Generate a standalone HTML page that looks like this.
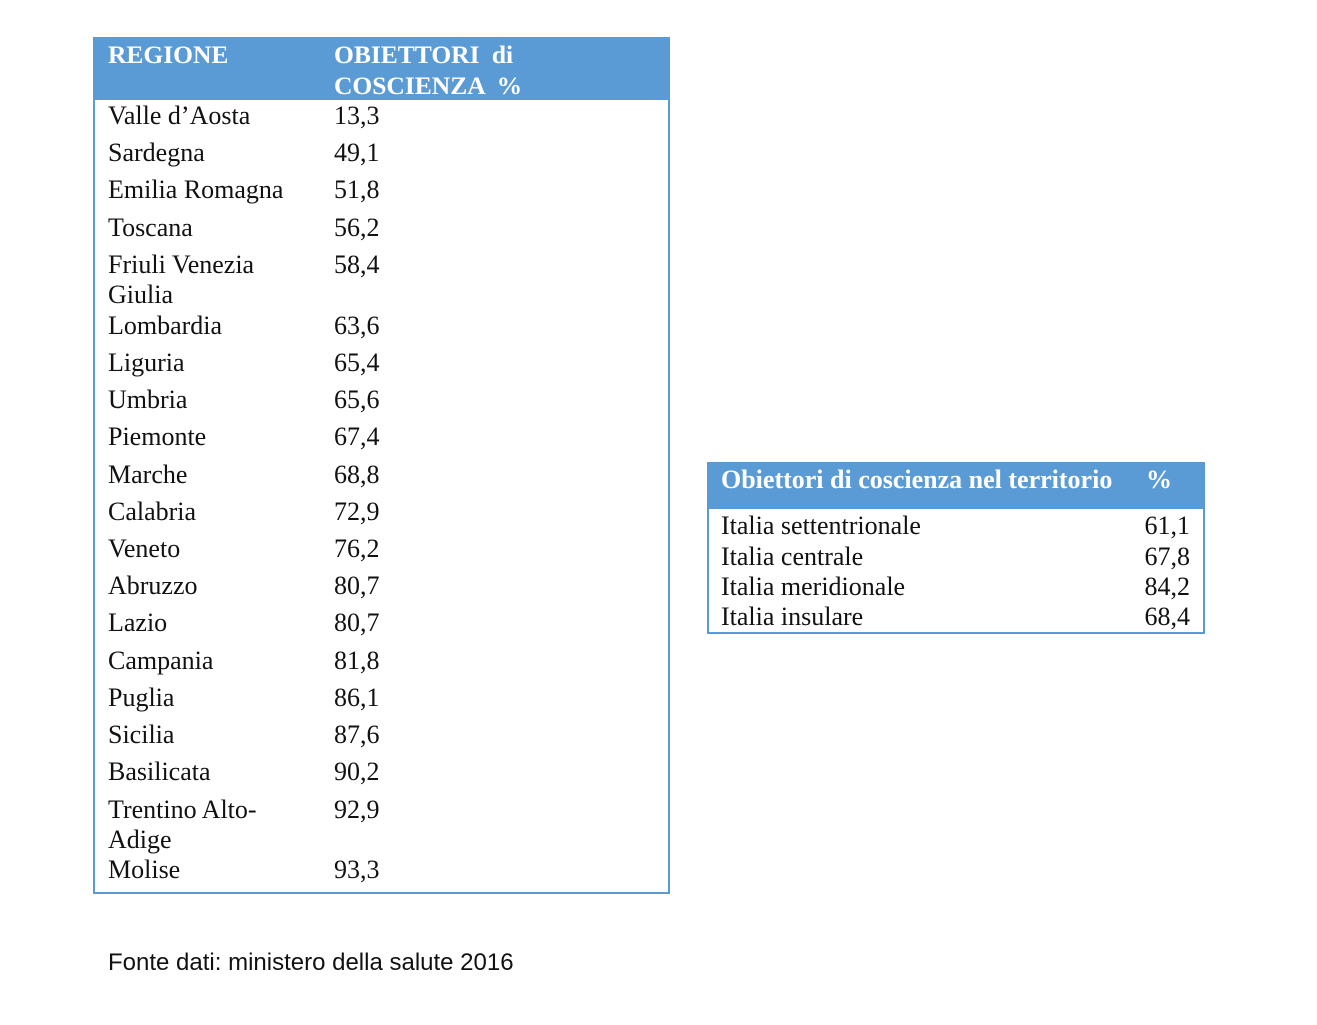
<!DOCTYPE html>
<html><head><meta charset="utf-8"><style>
body{margin:0;width:1317px;height:1025px;background:#fff;position:relative;overflow:hidden;font-family:"Liberation Serif",serif;color:#111}
.t{position:absolute;white-space:nowrap;line-height:30px;height:30px}
.s{font-size:26px}
.h{font-weight:bold;color:#fff;font-size:25.5px}
.box{position:absolute;border:2px solid #5b9bd5;box-sizing:border-box}
.hd{position:absolute;background:#5b9bd5}
.r{text-align:right}
</style></head><body>
<div class="box" style="left:93px;top:37px;width:577px;height:857px"></div>
<div class="hd" style="left:93px;top:37px;width:577px;height:63px"></div>
<div class="t h" style="left:108px;top:40px">REGIONE</div>
<div class="t h" style="left:334px;top:40px;word-spacing:6px">OBIETTORI di</div>
<div class="t h" style="left:334px;top:71px;word-spacing:6px">COSCIENZA %</div>

<div class="t s" style="left:108px;top:101px">Valle d’Aosta</div><div class="t s" style="left:334px;top:101px">13,3</div>
<div class="t s" style="left:108px;top:138px">Sardegna</div><div class="t s" style="left:334px;top:138px">49,1</div>
<div class="t s" style="left:108px;top:175px">Emilia Romagna</div><div class="t s" style="left:334px;top:175px">51,8</div>
<div class="t s" style="left:108px;top:213px">Toscana</div><div class="t s" style="left:334px;top:213px">56,2</div>
<div class="t s" style="left:108px;top:250px">Friuli Venezia</div><div class="t s" style="left:334px;top:250px">58,4</div>
<div class="t s" style="left:108px;top:280px">Giulia</div>
<div class="t s" style="left:108px;top:311px">Lombardia</div><div class="t s" style="left:334px;top:311px">63,6</div>
<div class="t s" style="left:108px;top:348px">Liguria</div><div class="t s" style="left:334px;top:348px">65,4</div>
<div class="t s" style="left:108px;top:385px">Umbria</div><div class="t s" style="left:334px;top:385px">65,6</div>
<div class="t s" style="left:108px;top:422px">Piemonte</div><div class="t s" style="left:334px;top:422px">67,4</div>
<div class="t s" style="left:108px;top:460px">Marche</div><div class="t s" style="left:334px;top:460px">68,8</div>
<div class="t s" style="left:108px;top:497px">Calabria</div><div class="t s" style="left:334px;top:497px">72,9</div>
<div class="t s" style="left:108px;top:534px">Veneto</div><div class="t s" style="left:334px;top:534px">76,2</div>
<div class="t s" style="left:108px;top:571px">Abruzzo</div><div class="t s" style="left:334px;top:571px">80,7</div>
<div class="t s" style="left:108px;top:608px">Lazio</div><div class="t s" style="left:334px;top:608px">80,7</div>
<div class="t s" style="left:108px;top:646px">Campania</div><div class="t s" style="left:334px;top:646px">81,8</div>
<div class="t s" style="left:108px;top:683px">Puglia</div><div class="t s" style="left:334px;top:683px">86,1</div>
<div class="t s" style="left:108px;top:720px">Sicilia</div><div class="t s" style="left:334px;top:720px">87,6</div>
<div class="t s" style="left:108px;top:757px">Basilicata</div><div class="t s" style="left:334px;top:757px">90,2</div>
<div class="t s" style="left:108px;top:795px">Trentino Alto-</div><div class="t s" style="left:334px;top:795px">92,9</div>
<div class="t s" style="left:108px;top:825px">Adige</div>
<div class="t s" style="left:108px;top:855px">Molise</div><div class="t s" style="left:334px;top:855px">93,3</div>

<div class="box" style="left:707px;top:462px;width:498px;height:172px"></div>
<div class="hd" style="left:707px;top:462px;width:498px;height:47px"></div>
<div class="t h" style="left:721px;top:465px;font-size:26px">Obiettori di coscienza nel territorio</div>
<div class="t h" style="left:1146px;top:465px;font-size:26px">%</div>
<div class="t s" style="left:721px;top:511px">Italia settentrionale</div><div class="t s r" style="left:1090px;width:100px;top:511px">61,1</div>
<div class="t s" style="left:721px;top:542px">Italia centrale</div><div class="t s r" style="left:1090px;width:100px;top:542px">67,8</div>
<div class="t s" style="left:721px;top:572px">Italia meridionale</div><div class="t s r" style="left:1090px;width:100px;top:572px">84,2</div>
<div class="t s" style="left:721px;top:602px">Italia insulare</div><div class="t s r" style="left:1090px;width:100px;top:602px">68,4</div>

<div class="t" style="left:108px;top:948px;font-family:'Liberation Sans',sans-serif;font-size:24px">Fonte dati: ministero della salute 2016</div>
</body></html>
